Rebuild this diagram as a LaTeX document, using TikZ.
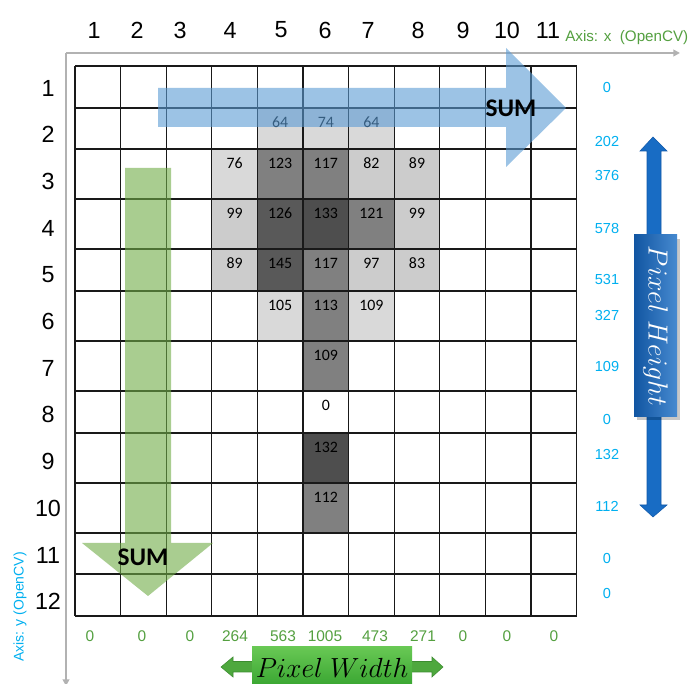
\documentclass[tikz,border=0pt]{standalone}
\usepackage{fontspec}
\setmainfont{Liberation Sans}
\newfontfamily\calfont{Carlito}
\usetikzlibrary{arrows.meta}
\definecolor{axisgray}{RGB}{178,178,178}
\definecolor{lightA}{RGB}{217,217,217}
\definecolor{lightB}{RGB}{204,204,204}
\definecolor{midG}{RGB}{128,128,128}
\definecolor{darkA}{RGB}{89,89,89}
\definecolor{darkB}{RGB}{78,78,78}
\definecolor{sumblue}{RGB}{91,155,213}
\definecolor{sumgreen}{RGB}{112,173,71}
\definecolor{cyanv}{RGB}{0,176,240}
\definecolor{greenv}{RGB}{84,160,64}
\definecolor{arrblue}{RGB}{24,108,196}
\definecolor{arrblueD}{RGB}{18,90,170}
\definecolor{arrgreen}{RGB}{78,168,62}
\definecolor{arrgreenD}{RGB}{60,140,48}
\definecolor{boxgreenT}{RGB}{104,200,84}
\definecolor{boxgreenB}{RGB}{52,162,46}
\newcommand\lblfont{\fontsize{17.5}{20}\selectfont}
\newcommand\cellfont{\calfont\fontsize{11.9}{14}\selectfont}
\newcommand\sidefont{\fontsize{10.9}{12}\selectfont}
\newcommand\botfont{\fontsize{11.6}{13}\selectfont}
\newcommand\axfont{\fontsize{11.4}{13}\selectfont}
\newcommand\sumfont{\calfont\bfseries\fontsize{19}{21}\selectfont}
\newcommand\boxfont{\fontsize{20}{22}\selectfont}
\begin{document}
\begin{tikzpicture}[x=0.75pt,y=-0.75pt,
  gridline/.style={draw=black!90,line width=0.95pt},
  cellval/.style={inner sep=0pt,font=\cellfont,text=black},
  sideval/.style={inner sep=0pt,font=\sidefont,text=cyanv},
  botval/.style={inner sep=0pt,font=\botfont,text=greenv},
  lbl/.style={inner sep=0pt,font=\lblfont,text=black},
  axisline/.style={draw=axisgray,line width=1.4pt,-{Triangle[length=5pt,width=5pt]}}]
\useasboundingbox (0,0) rectangle (694,684);
\fill[white] (0,0) rectangle (694,684);
% axes
\coordinate (O) at (66,53);
\coordinate (xend) at (680,53);
\coordinate (yend) at (66,686);
\draw[axisline] (O) -- (xend);
\draw[axisline] (O) -- (yend);
\node[anchor=west,inner sep=0pt,font=\axfont,text=greenv] (xlab) at (565,38) {Axis: x\ \ (OpenCV)};
\node[rotate=90,inner sep=0pt,font=\fontsize{10.5}{12}\selectfont,text=cyanv] (ylab) at (20,607) {Axis: y (OpenCV)};
% cell fills and values
\foreach \c/\t/\b/\col/\v in {
  5/108/149/lightA/64, 6/108/149/lightA/74, 7/108/149/lightA/64,
  4/149/199/lightA/76, 5/149/199/midG/123, 6/149/199/midG/117, 7/149/199/lightB/82, 8/149/199/lightB/89,
  4/199/249/lightB/99, 5/199/249/darkA/126, 6/199/249/darkB/133, 7/199/249/midG/121, 8/199/249/lightB/99,
  4/249/291/lightB/89, 5/249/291/darkA/145, 6/249/291/midG/117, 7/249/291/lightB/97, 8/249/291/lightB/83,
  5/291/341/lightA/105, 6/291/341/midG/113, 7/291/341/lightA/109,
  6/341/391/midG/109, 6/391/433/white/0, 6/433/483/darkB/132, 6/483/533/midG/112}{
  \fill[\col] ({75+45.6*(\c-1)},\t) rectangle ({75+45.6*\c},\b);
  \node[cellval] (v\c-\t) at ({75+45.6*(\c-0.5)},{\t+14.5}) {\v};
}
% grid
\foreach \i in {0,...,11}{
  \draw[gridline] ({75+45.6*\i},66) -- ({75+45.6*\i},616);
}
\foreach \y in {66,108,149,199,249,291,341,391,433,483,533,574,616}{
  \draw[gridline] (75,\y) -- (577,\y);
}
% column labels
\foreach \i/\x in {1/94,2/137,3/180,4/230,5/281,6/325,7/368,8/418,9/463,10/507,11/548}{
  \node[lbl] (cl\i) at (\x,30) {\i};
}
% row labels
\foreach \i in {1,...,12}{
  \node[lbl] (rl\i) at (48,{88+46.7*(\i-1)}) {\i};
}
% right values
\foreach \y/\v [count=\k] in {88/0,141/202,176/376,228/578,280/531,315/327,366/109,419/0,454/132,506/112,558/0,593/0}{
  \node[sideval] (rv\k) at (607,\y) {\v};
}
% bottom values
\foreach \x/\v [count=\k] in {90/0,142/0,190/0,235/264,283/563,325/1005,375/473,423/271,463/0,507/0,554/0}{
  \node[botval] (bv\k) at (\x,636) {\v};
}
% SUM arrows
\fill[sumblue,fill opacity=0.6] (158,88) -- (506,88) -- (506,48) -- (566,108) -- (506,167) -- (506,127) -- (158,127) -- cycle;
\node[inner sep=0pt,font=\sumfont] (sumx) at (511,108) {SUM};
\fill[sumgreen,fill opacity=0.6] (125,168) -- (171,168) -- (171,543) -- (213,543) -- (148,596) -- (82,543) -- (125,543) -- cycle;
\node[inner sep=0pt,font=\sumfont] (sumy) at (143,557) {SUM};
% Pixel Height arrow
\fill[arrblue,draw=arrblueD,line width=0.4pt] (653,137) -- (667,151) -- (661,151) -- (661,505) -- (667,505) -- (653,517) -- (640,505) -- (647,505) -- (647,151) -- (640,151) -- cycle;
\fill[black,opacity=0.22] (637,239) rectangle (680,420);
\shade[left color=arrblueD!95!black,right color=arrblue!80!white] (634,235) rectangle (677,417);
\node[rotate=-90,inner sep=0pt,font=\boxfont,text=white] (ph) at (655.5,326) {$Pixel\ Height$};
% Pixel Width arrow
\fill[arrgreen,draw=arrgreenD,line width=0.4pt] (221,667) -- (233,657) -- (233,661.5) -- (432,661.5) -- (432,657) -- (443,667) -- (432,677) -- (432,672) -- (233,672) -- (233,677) -- cycle;
\shade[top color=boxgreenT,bottom color=boxgreenB] (252,647) rectangle (412,690);
\node[inner sep=0pt,font=\boxfont,text=black] (pw) at (332,668) {$Pixel\ Width$};
\end{tikzpicture}
\end{document}
